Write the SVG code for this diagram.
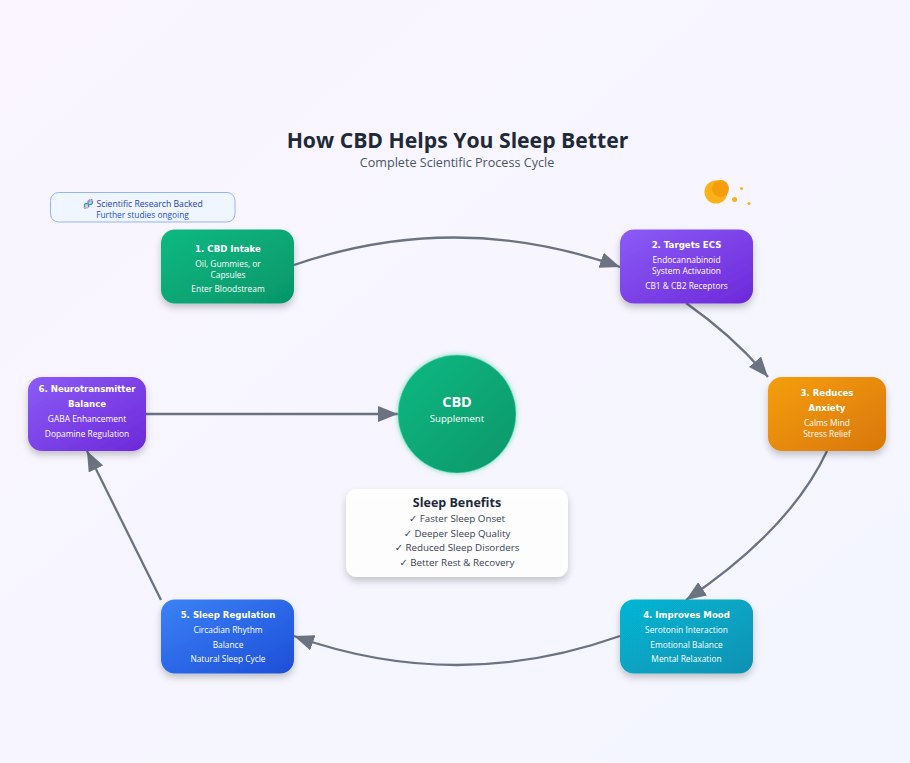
<svg xmlns="http://www.w3.org/2000/svg" width="910" height="763" viewBox="0 0 910 763">
<style>
.t{font-family:"Open Sans","Noto Sans",sans-serif;text-anchor:middle}
.h{font-family:"DejaVu Sans",sans-serif;font-size:8.6px;font-weight:700;fill:#fff;text-anchor:middle}
.s{font-family:"Open Sans","Noto Sans",sans-serif;font-size:8.4px;fill:#fff;text-anchor:middle}
.b{font-family:"Open Sans","DejaVu Sans",sans-serif;font-size:9.8px;fill:#374151;text-anchor:middle}
.c{fill:none;stroke:#6b7280;stroke-width:2.3}
</style>
<defs>
<linearGradient id="bg" x1="0" y1="0" x2="1" y2="1"><stop offset="0" stop-color="#faf5ff"/><stop offset="1" stop-color="#f3f6ff"/></linearGradient>
<linearGradient id="g" x1="0" y1="0" x2="1" y2="1"><stop offset="0" stop-color="#10b981"/><stop offset="1" stop-color="#059669"/></linearGradient>
<linearGradient id="p" x1="0" y1="0" x2="1" y2="1"><stop offset="0" stop-color="#8b5cf6"/><stop offset="1" stop-color="#6d28d9"/></linearGradient>
<linearGradient id="o" x1="0" y1="0" x2="1" y2="1"><stop offset="0" stop-color="#f59e0b"/><stop offset="1" stop-color="#d97706"/></linearGradient>
<linearGradient id="y" x1="0" y1="0" x2="1" y2="1"><stop offset="0" stop-color="#06b6d4"/><stop offset="1" stop-color="#0891b2"/></linearGradient>
<linearGradient id="u" x1="0" y1="0" x2="1" y2="1"><stop offset="0" stop-color="#3b82f6"/><stop offset="1" stop-color="#1d4ed8"/></linearGradient>
<filter id="sh" x="-20%" y="-20%" width="140%" height="150%"><feDropShadow dx="0" dy="4" stdDeviation="3.5" flood-color="#000" flood-opacity=".22"/></filter>
<filter id="glow" x="-20%" y="-20%" width="140%" height="140%"><feDropShadow dx="0" dy="0" stdDeviation="2.5" flood-color="#10b981" flood-opacity=".5"/></filter>
<marker id="a" markerUnits="userSpaceOnUse" markerWidth="21" markerHeight="16" refX="20" refY="8" orient="auto"><path d="M0,0L20,8L0,16Z" fill="#6b7280"/></marker>
</defs>
<rect width="910" height="763" fill="url(#bg)"/>
<g id="title">
<text class="t" x="457.500" y="148" font-size="21.200" font-weight="700" fill="#1f2937">How CBD Helps You Sleep Better</text>
<text class="t" x="457" y="167" font-size="12.600" fill="#4b5563">Complete Scientific Process Cycle</text>
</g>
<g id="connectors">
<path class="c" marker-end="url(#a)" d="M294,265Q457,209 620,267"/>
<path class="c" marker-end="url(#a)" d="M686,303Q733,336 768,377"/>
<path class="c" marker-end="url(#a)" d="M827,451Q790,530 686,600"/>
<path class="c" marker-end="url(#a)" d="M620,636Q457,694 294,636"/>
<path class="c" marker-end="url(#a)" d="M161,600L87,451"/>
<path class="c" marker-end="url(#a)" d="M146,414L398,414"/>
</g>
<g id="badge">
<rect x="50.500" y="192.500" width="184.500" height="29.500" rx="8" fill="#eff6ff" stroke="#93b4f5"/>
<text class="t" x="143" y="207" font-size="8.650" fill="#1e40af">🧬 Scientific Research Backed</text>
<text class="t" x="142.500" y="218" font-size="8.350" fill="#1d4ed8">Further studies ongoing</text>
</g>
<g id="sleep-icon" fill="#fbb117">
<circle cx="716" cy="192" r="11.500"/>
<circle cx="720.500" cy="188.500" r="8.500" fill="#f59e0b"/>
<circle cx="734.500" cy="199.500" r="2.500"/>
<circle cx="741.500" cy="188.500" r="1.500"/>
<circle cx="749" cy="203.500" r="1.500"/>
</g>
<g id="node1">
<rect x="161" y="229.500" width="133" height="74" rx="14" fill="url(#g)" filter="url(#sh)"/>
<text class="h" x="228" y="252">1. CBD Intake</text>
<text class="s" x="228" y="266.500">Oil, Gummies, or</text>
<text class="s" x="228" y="277.500">Capsules</text>
<text class="s" x="228" y="291.500">Enter Bloodstream</text>
</g>
<g id="node2">
<rect x="620" y="229.500" width="133" height="74" rx="14" fill="url(#p)" filter="url(#sh)"/>
<text class="h" x="686.500" y="248">2. Targets ECS</text>
<text class="s" x="686.500" y="262.500">Endocannabinoid</text>
<text class="s" x="686.500" y="273.500">System Activation</text>
<text class="s" x="686.500" y="288.500">CB1 &amp; CB2 Receptors</text>
</g>
<g id="node3">
<rect x="768" y="377" width="118" height="74" rx="14" fill="url(#o)" filter="url(#sh)"/>
<text class="h" x="827" y="396">3. Reduces</text>
<text class="h" x="827" y="411">Anxiety</text>
<text class="s" x="827" y="426">Calms Mind</text>
<text class="s" x="827" y="437">Stress Relief</text>
</g>
<g id="node4">
<rect x="620" y="599.500" width="133" height="74" rx="14" fill="url(#y)" filter="url(#sh)"/>
<text class="h" x="686.500" y="618">4. Improves Mood</text>
<text class="s" x="686.500" y="633">Serotonin Interaction</text>
<text class="s" x="686.500" y="648">Emotional Balance</text>
<text class="s" x="686.500" y="662">Mental Relaxation</text>
</g>
<g id="node5">
<rect x="161" y="599.500" width="133" height="74" rx="14" fill="url(#u)" filter="url(#sh)"/>
<text class="h" x="228" y="618">5. Sleep Regulation</text>
<text class="s" x="228" y="633">Circadian Rhythm</text>
<text class="s" x="228" y="648">Balance</text>
<text class="s" x="228" y="662">Natural Sleep Cycle</text>
</g>
<g id="node6">
<rect x="28" y="377" width="118" height="74" rx="14" fill="url(#p)" filter="url(#sh)"/>
<text class="h" x="87" y="392">6. Neurotransmitter</text>
<text class="h" x="87" y="407">Balance</text>
<text class="s" x="87" y="422">GABA Enhancement</text>
<text class="s" x="87" y="437">Dopamine Regulation</text>
</g>
<g id="center">
<circle cx="457" cy="414" r="59" fill="url(#g)" stroke="#6ee7b7" stroke-opacity=".5" stroke-width="1" filter="url(#glow)"/>
<text class="t" x="457" y="407" font-size="14.500" font-weight="700" fill="#fff">CBD</text>
<text class="t" x="457" y="422" font-size="9.600" fill="#fff">Supplement</text>
</g>
<g id="benefits">
<rect x="346" y="489" width="222" height="88" rx="11" fill="#fff" fill-opacity=".95" filter="url(#sh)"/>
<text class="t" x="457" y="507" font-size="12.500" font-weight="700" fill="#1f2937">Sleep Benefits</text>
<text class="b" x="457" y="522">✓ Faster Sleep Onset</text>
<text class="b" x="457" y="537">✓ Deeper Sleep Quality</text>
<text class="b" x="457" y="551">✓ Reduced Sleep Disorders</text>
<text class="b" x="457" y="566">✓ Better Rest &amp; Recovery</text>
</g>
</svg>
